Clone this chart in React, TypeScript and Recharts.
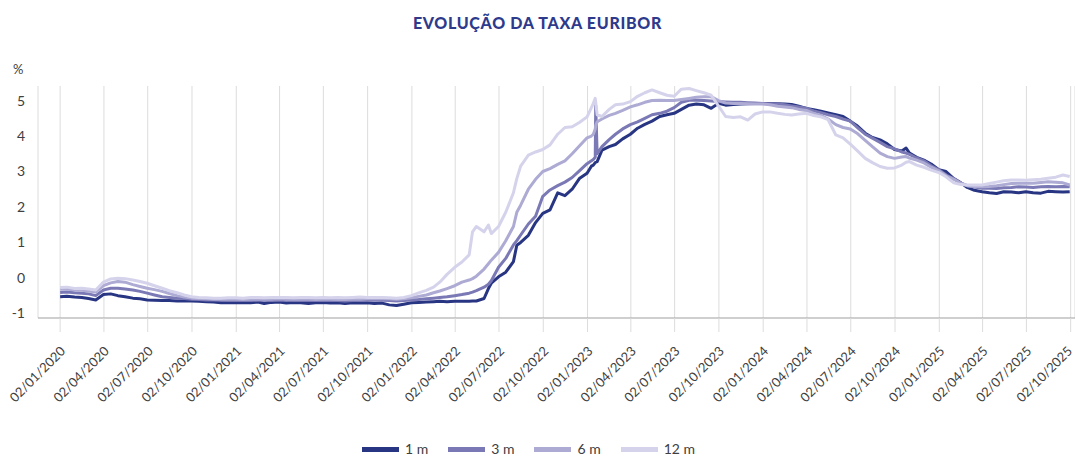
import React from "react";
import { LineChart, Line, XAxis, YAxis, CartesianGrid } from "recharts";

const dates = [
  "2020-01-02","2020-01-16","2020-02-01","2020-02-16","2020-03-01","2020-03-16","2020-04-01","2020-04-16",
  "2020-05-01","2020-05-16","2020-06-01","2020-06-16","2020-07-01","2020-07-16","2020-08-01","2020-08-16",
  "2020-09-01","2020-09-16","2020-10-01","2020-10-16","2020-11-01","2020-11-16","2020-12-01","2020-12-16",
  "2021-01-01","2021-01-16","2021-02-01","2021-02-16","2021-03-01","2021-03-16","2021-04-01","2021-04-16",
  "2021-05-01","2021-05-16","2021-06-01","2021-06-16","2021-07-01","2021-07-16","2021-08-01","2021-08-16",
  "2021-09-01","2021-09-16","2021-10-01","2021-10-16","2021-11-01","2021-11-16","2021-12-01","2021-12-16",
  "2022-01-01","2022-01-16","2022-02-01","2022-02-16","2022-03-01","2022-03-16","2022-04-01","2022-04-16",
  "2022-05-01","2022-05-08","2022-05-16","2022-06-01","2022-06-10","2022-06-16","2022-07-01","2022-07-16",
  "2022-08-01","2022-08-08","2022-08-16","2022-09-01","2022-09-16","2022-10-01","2022-10-16","2022-11-01",
  "2022-11-16","2022-12-01","2022-12-16","2023-01-01","2023-01-10","2023-01-14","2023-01-18","2023-01-19",
  "2023-01-22","2023-02-01","2023-02-16","2023-03-01","2023-03-16","2023-04-01","2023-04-16","2023-05-01",
  "2023-05-16","2023-06-01","2023-06-16","2023-07-01","2023-07-16","2023-08-01","2023-08-16","2023-09-01",
  "2023-09-16","2023-10-01","2023-10-16","2023-11-01","2023-11-16","2023-12-01","2023-12-16","2024-01-01",
  "2024-01-16","2024-02-01","2024-02-16","2024-03-01","2024-03-16","2024-04-01","2024-04-16","2024-05-01",
  "2024-05-16","2024-06-01","2024-06-16","2024-07-01","2024-07-16","2024-08-01","2024-08-16","2024-09-01",
  "2024-09-16","2024-10-01","2024-10-16","2024-10-25","2024-11-01","2024-11-16","2024-12-01","2024-12-16",
  "2025-01-01","2025-01-16","2025-02-01","2025-02-16","2025-03-01","2025-03-16","2025-04-01","2025-04-16",
  "2025-05-01","2025-05-16","2025-06-01","2025-06-16","2025-07-01","2025-07-16","2025-08-01","2025-08-16",
  "2025-09-01","2025-09-16","2025-09-30",
];

const euribor1m = [
  -0.53,-0.52,-0.54,-0.55,-0.58,-0.62,-0.47,-0.45,
  -0.50,-0.53,-0.57,-0.59,-0.62,-0.63,-0.64,-0.64,
  -0.65,-0.65,-0.65,-0.66,-0.67,-0.68,-0.70,-0.70,
  -0.70,-0.69,-0.70,-0.68,-0.72,-0.69,-0.68,-0.71,
  -0.69,-0.70,-0.72,-0.70,-0.69,-0.71,-0.70,-0.72,
  -0.70,-0.71,-0.70,-0.72,-0.71,-0.76,-0.78,-0.74,
  -0.70,-0.69,-0.68,-0.67,-0.66,-0.67,-0.66,-0.66,
  -0.66,-0.65,-0.65,-0.58,-0.30,-0.15,0.03,0.16,
  0.46,0.92,1.00,1.20,1.56,1.82,1.92,2.40,
  2.32,2.50,2.80,2.95,3.15,3.18,3.25,3.26,
  3.28,3.60,3.70,3.76,3.92,4.05,4.22,4.33,
  4.42,4.55,4.60,4.64,4.75,4.87,4.90,4.88,
  4.78,4.92,4.87,4.89,4.90,4.91,4.92,4.92,
  4.92,4.91,4.90,4.89,4.84,4.78,4.74,4.70,
  4.65,4.60,4.55,4.42,4.28,4.08,3.96,3.89,
  3.78,3.62,3.58,3.66,3.52,3.40,3.32,3.21,
  3.05,3.00,2.80,2.68,2.55,2.47,2.43,2.40,
  2.38,2.43,2.42,2.40,2.43,2.40,2.39,2.44,
  2.43,2.42,2.43,
];

const euribor3m = [
  -0.41,-0.40,-0.42,-0.43,-0.45,-0.50,-0.34,-0.29,
  -0.29,-0.31,-0.34,-0.38,-0.43,-0.48,-0.53,-0.55,
  -0.57,-0.58,-0.60,-0.61,-0.62,-0.62,-0.63,-0.64,
  -0.64,-0.64,-0.64,-0.63,-0.63,-0.64,-0.63,-0.63,
  -0.64,-0.64,-0.64,-0.64,-0.64,-0.64,-0.64,-0.65,
  -0.64,-0.64,-0.63,-0.63,-0.63,-0.64,-0.65,-0.64,
  -0.62,-0.61,-0.59,-0.57,-0.55,-0.53,-0.50,-0.47,
  -0.43,-0.40,-0.36,-0.26,-0.18,-0.08,0.30,0.55,
  0.93,1.05,1.21,1.52,1.74,2.30,2.48,2.60,
  2.70,2.83,3.02,3.22,3.30,3.34,3.40,4.85,
  3.50,3.70,3.90,4.05,4.20,4.32,4.40,4.50,
  4.60,4.64,4.70,4.80,4.95,5.01,5.01,5.00,
  4.99,4.97,4.96,4.95,4.95,4.94,4.93,4.92,
  4.91,4.90,4.88,4.85,4.82,4.78,4.71,4.66,
  4.60,4.55,4.48,4.42,4.24,4.05,3.94,3.82,
  3.70,3.64,3.55,3.52,3.48,3.38,3.30,3.16,
  3.05,2.90,2.80,2.67,2.60,2.56,2.53,2.53,
  2.52,2.54,2.55,2.57,2.56,2.55,2.57,2.58,
  2.57,2.58,2.57,
];

const euribor6m = [
  -0.32,-0.31,-0.34,-0.35,-0.37,-0.40,-0.22,-0.14,
  -0.10,-0.12,-0.19,-0.24,-0.29,-0.33,-0.38,-0.44,
  -0.50,-0.54,-0.57,-0.58,-0.59,-0.60,-0.60,-0.60,
  -0.60,-0.61,-0.60,-0.60,-0.60,-0.60,-0.59,-0.60,
  -0.60,-0.60,-0.60,-0.61,-0.60,-0.60,-0.61,-0.61,
  -0.60,-0.60,-0.59,-0.59,-0.58,-0.59,-0.60,-0.59,
  -0.56,-0.52,-0.48,-0.42,-0.37,-0.30,-0.22,-0.12,
  -0.06,-0.02,0.05,0.25,0.40,0.50,0.72,1.05,
  1.45,1.85,2.05,2.50,2.78,3.00,3.08,3.20,
  3.30,3.50,3.72,3.95,4.00,4.05,4.20,4.30,
  4.40,4.48,4.58,4.64,4.72,4.82,4.88,4.95,
  5.00,5.01,5.00,5.00,5.03,5.06,5.09,5.11,
  5.11,5.00,4.93,4.92,4.92,4.91,4.90,4.90,
  4.88,4.84,4.82,4.80,4.75,4.72,4.64,4.58,
  4.48,4.32,4.24,4.20,4.07,3.88,3.70,3.52,
  3.42,3.37,3.41,3.42,3.38,3.32,3.24,3.12,
  3.02,2.88,2.78,2.67,2.60,2.58,2.57,2.58,
  2.60,2.63,2.66,2.67,2.67,2.67,2.69,2.71,
  2.70,2.68,2.62,
];

const euribor12m = [
  -0.27,-0.26,-0.30,-0.29,-0.31,-0.34,-0.12,-0.03,
  -0.01,-0.02,-0.06,-0.10,-0.15,-0.22,-0.29,-0.36,
  -0.42,-0.48,-0.53,-0.55,-0.56,-0.57,-0.57,-0.56,
  -0.56,-0.57,-0.55,-0.55,-0.56,-0.55,-0.55,-0.55,
  -0.56,-0.55,-0.55,-0.56,-0.55,-0.56,-0.55,-0.56,
  -0.55,-0.54,-0.55,-0.55,-0.55,-0.56,-0.57,-0.55,
  -0.50,-0.42,-0.35,-0.26,-0.12,0.10,0.30,0.45,
  0.65,1.30,1.45,1.30,1.49,1.25,1.45,1.85,
  2.40,2.80,3.15,3.46,3.55,3.62,3.75,4.05,
  4.24,4.26,4.38,4.54,4.80,4.92,5.06,4.95,
  4.60,4.55,4.75,4.88,4.90,4.97,5.12,5.22,
  5.30,5.22,5.15,5.12,5.32,5.34,5.28,5.22,
  5.15,4.85,4.55,4.52,4.54,4.45,4.62,4.68,
  4.68,4.64,4.61,4.59,4.62,4.64,4.58,4.54,
  4.46,4.03,3.95,3.77,3.58,3.37,3.25,3.14,
  3.09,3.10,3.18,3.26,3.28,3.18,3.12,3.04,
  2.97,2.85,2.68,2.63,2.62,2.62,2.62,2.66,
  2.70,2.74,2.76,2.76,2.75,2.77,2.78,2.81,
  2.84,2.90,2.86,
];

const tickLabels = [
  "02/01/2020","02/04/2020","02/07/2020","02/10/2020","02/01/2021","02/04/2021",
  "02/07/2021","02/10/2021","02/01/2022","02/04/2022","02/07/2022","02/10/2022",
  "02/01/2023","02/04/2023","02/07/2023","02/10/2023","02/01/2024","02/04/2024",
  "02/07/2024","02/10/2024","02/01/2025","02/04/2025","02/07/2025","02/10/2025",
];

const yTicks = [-1, 0, 1, 2, 3, 4, 5];

const seriesNames = ["1 m", "3 m", "6 m", "12 m"];
const seriesColors = ["#283583", "#7b79b5", "#adaad3", "#d5d3eb"];

const DAY = 86400000;
const isoToDay = (s: string) => {
  const [y, m, d] = s.split("-").map(Number);
  return Date.UTC(y, m - 1, d) / DAY;
};
const dmyToDay = (s: string) => {
  const [d, m, y] = s.split("/").map(Number);
  return Date.UTC(y, m - 1, d) / DAY;
};
const dayToDmy = (t: number) => {
  const dt = new Date(Math.round(t) * DAY);
  const p = (n: number) => String(n).padStart(2, "0");
  return `${p(dt.getUTCDate())}/${p(dt.getUTCMonth() + 1)}/${dt.getUTCFullYear()}`;
};

const tickDays = tickLabels.map(dmyToDay);
const xDomain = [tickDays[0] - 46, tickDays[tickDays.length - 1] + 9];

const data = dates.map((d, i) => ({
  t: isoToDay(d),
  m1: euribor1m[i],
  m3: euribor3m[i],
  m6: euribor6m[i],
  m12: euribor12m[i],
}));

const keys = ["m1", "m3", "m6", "m12"];

const XTick = (props: any) => {
  const { x, y, payload } = props;
  const ax = Math.min(x + 6, 1073);
  return (
    <g transform={`translate(${ax},${y}) rotate(-45)`}>
      <text x={0} y={0} textAnchor="end" fill="#404040" fontSize={13}>
        {dayToDmy(payload.value)}
      </text>
    </g>
  );
};

export default function App() {
  return (
    <div
      style={{
        position: "absolute",
        left: 0,
        top: 0,
        width: 1075,
        height: 456,
        background: "#fff",
        fontFamily: "Lato, 'Open Sans', sans-serif",
        overflow: "hidden",
      }}
    >
      <div
        style={{
          position: "absolute",
          left: 0,
          top: 13,
          width: 1075,
          textAlign: "center",
          fontWeight: 900,
          fontSize: 16,
          letterSpacing: 0.7,
          color: "#2e3a8c",
          lineHeight: "20px",
        }}
      >
        EVOLUÇÃO DA TAXA EURIBOR
      </div>
      <div
        style={{
          position: "absolute",
          left: 13,
          top: 61,
          fontSize: 13,
          color: "#404040",
          lineHeight: "16px",
        }}
      >
        %
      </div>
      <LineChart
        width={1075}
        height={456}
        data={data}
        margin={{ top: 86, right: 0, bottom: 0, left: 0 }}
      >
        <CartesianGrid horizontal={false} vertical={true} stroke="#dcdcdc" strokeWidth={1} />
        <XAxis
          type="number"
          dataKey="t"
          domain={xDomain}
          allowDataOverflow
          ticks={tickDays}
          interval={0}
          height={138}
          tickSize={14}
          tickMargin={20}
          tickLine={{ stroke: "#dcdcdc" }}
          axisLine={{ stroke: "#a0a0a0", strokeWidth: 1.2 }}
          tick={<XTick />}
        />
        <YAxis
          type="number"
          domain={[-1.13, 5.41]}
          allowDataOverflow
          ticks={yTicks}
          interval={0}
          width={38}
          axisLine={false}
          tickLine={false}
          tickSize={0}
          tickMargin={13}
          tick={{ fill: "#404040", fontSize: 14 }}
        />
        {keys.map((k, i) => (
          <Line
            key={k}
            type="linear"
            dataKey={k}
            name={seriesNames[i]}
            stroke={seriesColors[i]}
            strokeWidth={3}
            dot={false}
            activeDot={false}
            isAnimationActive={false}
            strokeLinejoin="round"
          />
        ))}
      </LineChart>
      <div
        style={{
          position: "absolute",
          left: 362,
          top: 440,
          display: "flex",
          alignItems: "center",
          fontSize: 14,
          color: "#404040",
          lineHeight: "18px",
        }}
      >
        {seriesNames.map((n, i) => (
          <div key={n} style={{ display: "flex", alignItems: "center", marginRight: 20 }}>
            <div style={{ width: 37, height: 5, background: seriesColors[i], marginRight: 6 }} />
            <span>{n}</span>
          </div>
        ))}
      </div>
    </div>
  );
}
